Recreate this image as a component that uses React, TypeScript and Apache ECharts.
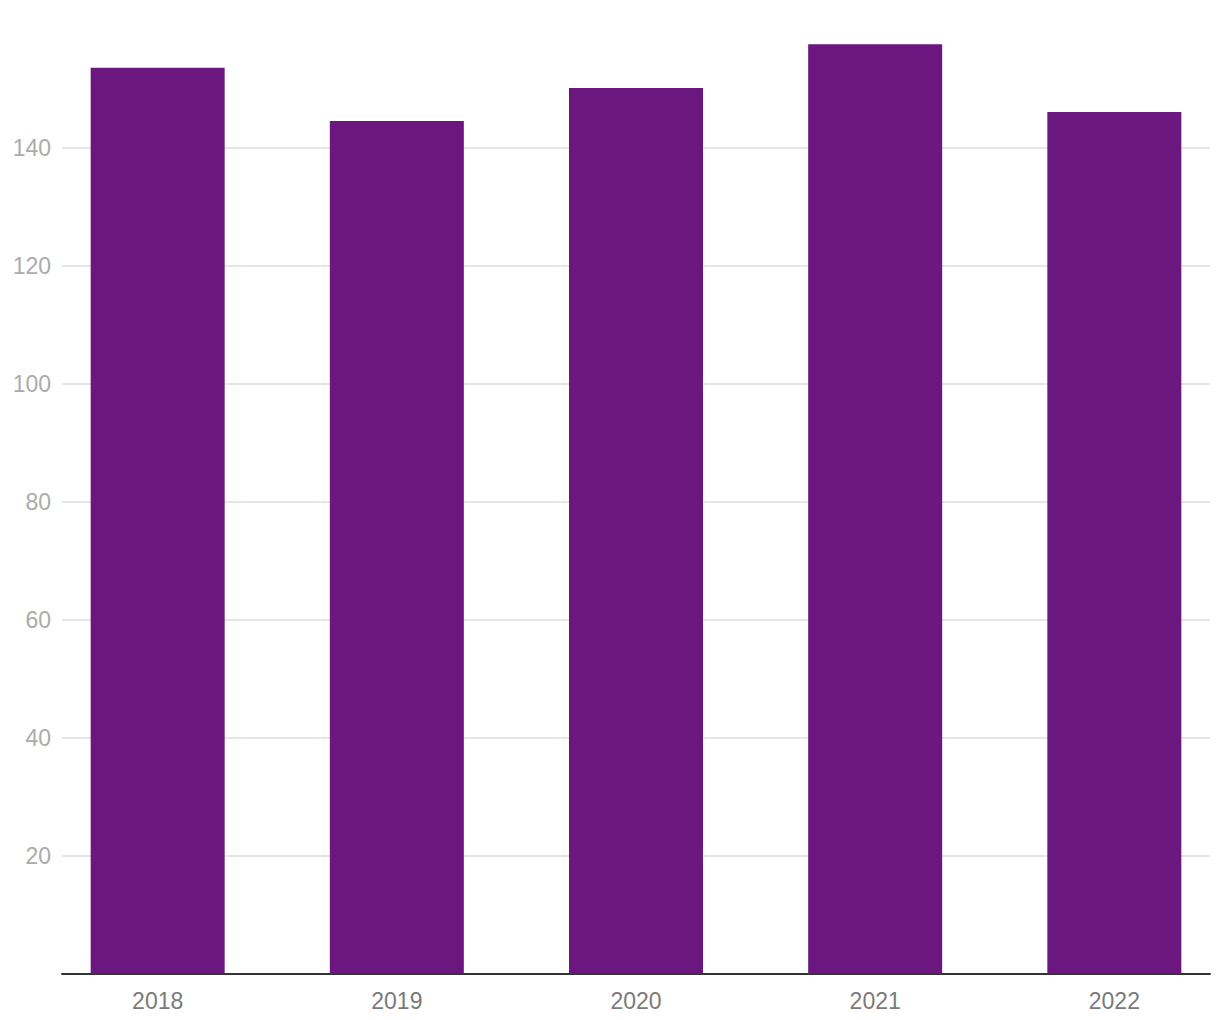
import React, { useEffect, useRef } from "react";
import * as echarts from "echarts";

const years = ["2018", "2019", "2020", "2021", "2022"];
const values = [153.5, 144.5, 150.1, 157.5, 146.0];
const yTicks = { min: 0, max: 160, interval: 20 };
const xPositions = [0, 1, 2, 3, 4];

export default function App() {
  const ref = useRef<HTMLDivElement>(null);
  useEffect(() => {
    if (!ref.current) return;
    const chart = echarts.init(ref.current, undefined, { renderer: "svg" });
    chart.setOption({
      animation: false,
      backgroundColor: "#ffffff",
      grid: { left: 62, right: 10, top: 29.5, bottom: 46.5, containLabel: false },
      xAxis: {
        type: "value",
        min: -0.4,
        max: 4.4,
        splitLine: { show: false },
        axisTick: { show: false },
        axisLine: { show: true, lineStyle: { color: "#333333", width: 2 } },
        axisLabel: {
          customValues: xPositions,
          formatter: (v: number) => years[Math.round(v)] ?? "",
          color: "#7a7a7a",
          fontSize: 23,
          fontFamily: "Liberation Sans, Arial, sans-serif",
          margin: 16,
        },
      },
      yAxis: {
        type: "value",
        min: yTicks.min,
        max: yTicks.max,
        interval: yTicks.interval,
        axisLine: { show: false },
        axisTick: { show: false },
        splitLine: {
          show: true,
          showMinLine: false,
          showMaxLine: false,
          lineStyle: { color: "#e6e6e6", width: 2 },
        },
        axisLabel: {
          showMinLabel: false,
          showMaxLabel: false,
          color: "#ababab",
          fontSize: 23,
          fontFamily: "Liberation Sans, Arial, sans-serif",
          margin: 11,
        },
      },
      series: [
        {
          type: "bar",
          barWidth: 134,
          itemStyle: { color: "#6c1680" },
          data: values.map((v, i) => [xPositions[i], v]),
        },
      ],
    });
    return () => chart.dispose();
  }, []);
  return (
    <div
      ref={ref}
      style={{ position: "absolute", left: 0, top: 0, width: 1220, height: 1020 }}
    />
  );
}
